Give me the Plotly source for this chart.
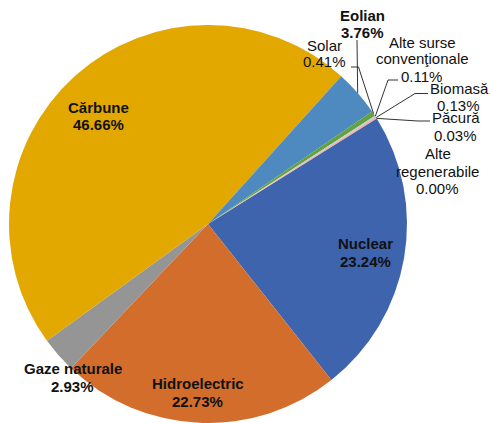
import math
import plotly.graph_objects as go

# ---- data ----
categories = ["Nuclear", "Hidroelectric", "Gaze naturale", "Cărbune", "Eolian", "Solar",
              "Alte surse convenţionale", "Biomasă", "Păcură", "Alte regenerabile"]
shares = [23.24, 22.73, 2.93, 46.66, 3.76, 0.41, 0.11, 0.13, 0.03, 0.00]
colors = ["#3E64AE", "#D36D2B", "#959595", "#E2A800", "#4E8AC0", "#62A23F",
          "#B4CBE6", "#F2B3A0", "#C98A8A", "#F5D26A"]

W, H = 490, 423
CX, CY, R = 208, 224, 199
ROT = 58


def px(x, y):
    return x / W, 1 - y / H


fig = go.Figure(go.Pie(
    labels=categories, values=shares, sort=False, direction="clockwise", rotation=ROT,
    marker=dict(colors=colors, line=dict(color="white", width=0)),
    textinfo="none", hoverinfo="none", showlegend=False,
    domain=dict(x=[(CX - R) / W, (CX + R) / W], y=[(H - CY - R) / H, (H - CY + R) / H]),
))

FONT = "Arial, Liberation Sans, sans-serif"
fs = 15


def pct(name):
    return f"{shares[categories.index(name)]:.2f}%"


label_layout = [
    ("Cărbune", [(98, 107), (98, 125)], True, ["Cărbune"]),
    ("Nuclear", [(365.5, 243.5), (365.5, 261.5)], True, ["Nuclear"]),
    ("Hidroelectric", [(197.5, 383.5), (197.5, 401.5)], True, ["Hidroelectric"]),
    ("Gaze naturale", [(73, 368.5), (72.5, 386.5)], True, ["Gaze naturale"]),
    ("Eolian", [(362.5, 15), (362.5, 32.5)], True, ["Eolian"]),
    ("Solar", [(324, 45), (324, 62)], False, ["Solar"]),
    ("Alte surse convenţionale", [(422.5, 42), (422, 59), (421.7, 76.5)], False, ["Alte surse", "convenţionale"]),
    ("Biomasă", [(459, 88.5), (458.7, 106)], False, ["Biomasă"]),
    ("Păcură", [(456.3, 117.5), (455.8, 135)], False, ["Păcură"]),
    ("Alte regenerabile", [(437.5, 153.5), (437.7, 171), (437.2, 188.5)], False, ["Alte", "regenerabile"]),
]

annotations = []
for name, positions, bold, name_lines in label_layout:
    lines = name_lines + [pct(name)]
    for text, (x, y) in zip(lines, positions):
        ax, ay = px(x, y)
        annotations.append(dict(
            x=ax, y=ay, xref="paper", yref="paper", showarrow=False,
            text=f"<b>{text}</b>" if bold else text,
            xanchor="center", yanchor="middle",
            font=dict(family=FONT, size=fs, color="#111111"),
        ))


def anchor(name):
    i = categories.index(name)
    total = sum(shares)
    start = sum(shares[:i])
    mid = (start + shares[i] / 2) / total * 360 + ROT
    t = math.radians(mid)
    return CX + R * math.sin(t), CY - R * math.cos(t)


leaders = {
    "Eolian": [(357, 40)],
    "Solar": [(358.5, 67), (351, 67)],
    "Alte surse convenţionale": [(388, 80), (398, 80)],
    "Biomasă": [(415, 93.5), (428, 93.5)],
    "Păcură": [(418, 121), (430, 121)],
}

shapes = []
for name, pts in leaders.items():
    ax, ay = anchor(name)
    path_pts = [(ax, ay)] + pts
    p = "M " + " L ".join(f"{px(x, y)[0]},{px(x, y)[1]}" for x, y in path_pts)
    shapes.append(dict(type="path", path=p, xref="paper", yref="paper",
                       line=dict(color="#333333", width=1)))

fig.update_layout(
    width=W, height=H, margin=dict(l=0, r=0, t=0, b=0),
    paper_bgcolor="white", plot_bgcolor="white",
    annotations=annotations, shapes=shapes,
)

fig.write_html("out.html", config={"displayModeBar": False},
               post_script="document.body.style.margin='0';document.body.style.overflow='hidden';")
